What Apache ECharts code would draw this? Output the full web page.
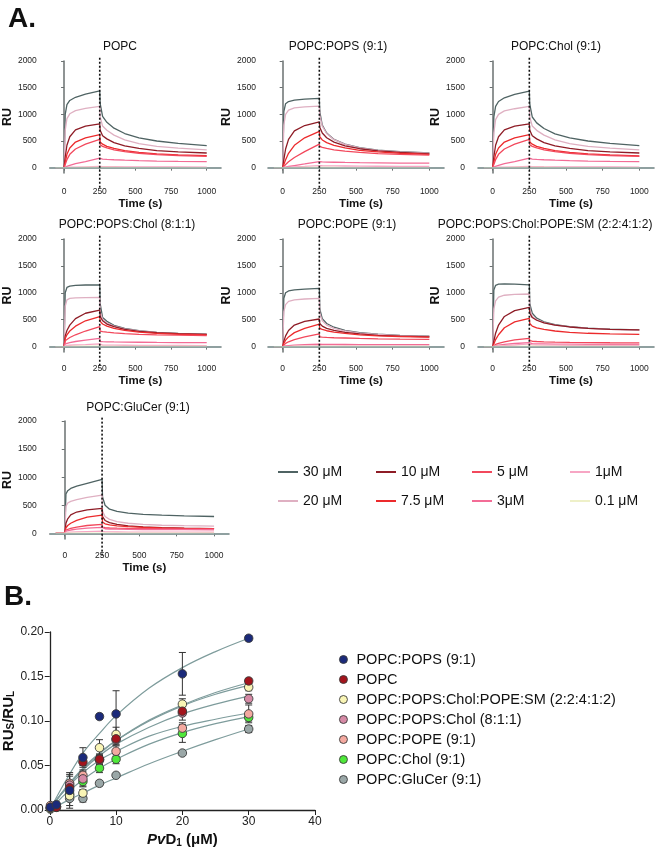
<!DOCTYPE html>
<html><head><meta charset="utf-8">
<script src="https://cdn.jsdelivr.net/npm/echarts@6/dist/echarts.min.js"></script>
<style>html,body{margin:0;padding:0;background:#fff}#c{width:655px;height:850px}</style>
</head><body><div id="c"></div>
<script>
const FONT = '"Liberation Sans", Arial, Helvetica, sans-serif';

// ---------- Panel A data ----------
const time = [-60, 0, 8, 20, 40, 80, 150, 250, 253, 270, 300, 350, 425, 525, 650, 800, 1000];
const concLabels = ['30 μM', '20 μM', '10 μM', '7.5 μM', '5 μM', '3μM', '1μM', '0.1 μM'];
const concColors = ['#4f6363', '#dfb0c2', '#8e1c26', '#ec2a2c', '#f2485c', '#f36c96', '#f7a6c4', '#eef0c8'];
const panelTitles = ['POPC', 'POPC:POPS (9:1)', 'POPC:Chol (9:1)', 'POPC:POPS:Chol (8:1:1)', 'POPC:POPE (9:1)', 'POPC:POPS:Chol:POPE:SM (2:2:4:1:2)', 'POPC:GluCer (9:1)'];
const xTicks = [0, 250, 500, 750, 1000];
const yTicks = [0, 500, 1000, 1500, 2000];
const injectionEnd = 250;

const popc = [
  [0, 0, 1000, 1180, 1260, 1320, 1380, 1440, 1200, 960, 850, 740, 640, 560, 500, 455, 415],
  [0, 0, 700, 920, 1010, 1070, 1110, 1150, 950, 780, 700, 610, 520, 450, 400, 365, 335],
  [0, 0, 200, 420, 580, 710, 780, 820, 700, 600, 540, 470, 410, 360, 320, 295, 275],
  [0, 0, 100, 250, 370, 480, 560, 620, 480, 440, 400, 360, 320, 285, 260, 240, 225],
  [0, 0, 60, 150, 250, 350, 440, 530, 430, 400, 370, 335, 300, 270, 245, 228, 212],
  [0, 0, 10, 25, 45, 75, 115, 180, 170, 162, 155, 148, 140, 132, 124, 117, 112],
  [0, 0, 2, 5, 8, 12, 16, 22, 20, 19, 18, 17, 16, 15, 14, 13, 12],
  [0, 0, 1, 1, 2, 2, 3, 4, 3, 3, 3, 3, 2, 2, 2, 2, 2]
];
const pops = [
  [0, 0, 1050, 1200, 1240, 1265, 1285, 1300, 1050, 800, 650, 530, 440, 375, 330, 300, 275],
  [0, 0, 800, 1000, 1080, 1120, 1140, 1155, 980, 780, 640, 525, 435, 370, 325, 295, 270],
  [0, 0, 150, 350, 530, 690, 790, 860, 760, 650, 560, 480, 410, 355, 315, 285, 258],
  [0, 0, 60, 150, 270, 420, 560, 680, 580, 520, 470, 420, 370, 325, 295, 270, 248],
  [0, 0, 20, 60, 110, 190, 300, 440, 400, 380, 360, 335, 310, 285, 265, 250, 235],
  [0, 0, 5, 12, 22, 40, 70, 115, 110, 108, 105, 102, 98, 94, 90, 87, 85],
  [0, 0, 2, 4, 8, 14, 24, 40, 38, 36, 35, 33, 31, 29, 27, 26, 25],
  [0, 0, 1, 1, 2, 2, 3, 4, 3, 3, 3, 3, 2, 2, 2, 2, 2]
];
const chol = [
  [0, 0, 950, 1150, 1240, 1310, 1375, 1435, 1190, 950, 840, 735, 635, 560, 500, 455, 412],
  [0, 0, 650, 900, 1000, 1065, 1105, 1148, 950, 780, 700, 610, 520, 450, 400, 365, 335],
  [0, 0, 200, 420, 580, 710, 780, 822, 700, 600, 540, 470, 410, 360, 320, 295, 275],
  [0, 0, 100, 250, 370, 480, 560, 618, 480, 440, 400, 360, 320, 285, 260, 240, 222],
  [0, 0, 60, 150, 250, 350, 440, 530, 430, 400, 370, 335, 300, 270, 245, 228, 212],
  [0, 0, 10, 25, 45, 75, 115, 181, 170, 162, 155, 148, 140, 132, 124, 117, 112],
  [0, 0, 2, 5, 8, 12, 16, 22, 20, 19, 18, 17, 16, 15, 14, 13, 12],
  [0, 0, 1, 1, 2, 2, 3, 4, 3, 3, 3, 3, 2, 2, 2, 2, 2]
];
const popsChol = [
  [0, 0, 1000, 1100, 1125, 1140, 1145, 1148, 800, 540, 470, 395, 340, 295, 265, 245, 230],
  [0, 0, 750, 870, 895, 905, 912, 916, 650, 510, 440, 380, 330, 290, 262, 242, 226],
  [0, 0, 200, 300, 400, 520, 620, 680, 560, 480, 420, 370, 320, 285, 258, 240, 226],
  [0, 0, 150, 220, 290, 380, 480, 557, 470, 420, 380, 340, 300, 270, 245, 230, 218],
  [0, 0, 110, 140, 170, 220, 290, 371, 290, 280, 270, 255, 240, 228, 218, 212, 205],
  [0, 0, 50, 60, 75, 95, 120, 155, 95, 92, 90, 87, 84, 81, 78, 76, 75],
  [0, 0, 20, 22, 25, 30, 38, 50, 30, 28, 27, 26, 25, 24, 22, 21, 20],
  [0, 0, 5, 5, 6, 7, 8, 10, 6, 5, 5, 5, 5, 4, 4, 4, 4]
];
const pope = [
  [0, 0, 900, 1000, 1035, 1055, 1068, 1083, 700, 520, 430, 360, 300, 260, 230, 210, 195],
  [0, 0, 650, 780, 840, 870, 885, 897, 620, 480, 400, 340, 290, 250, 225, 205, 190],
  [0, 0, 100, 200, 300, 400, 470, 513, 430, 380, 340, 300, 265, 235, 210, 195, 182],
  [0, 0, 60, 120, 180, 260, 340, 420, 340, 320, 295, 270, 245, 220, 200, 188, 178],
  [0, 0, 30, 60, 90, 130, 180, 235, 180, 175, 170, 165, 160, 152, 145, 140, 135],
  [0, 0, 10, 15, 20, 28, 36, 45, 42, 41, 40, 40, 39, 38, 38, 37, 36],
  [0, 0, 4, 5, 6, 8, 10, 12, 10, 10, 9, 9, 9, 8, 8, 8, 8],
  [0, 0, 1, 1, 1, 2, 2, 3, 2, 2, 2, 2, 2, 2, 2, 2, 2]
];
const mix = [
  [0, 0, 1050, 1140, 1160, 1165, 1160, 1148, 800, 620, 530, 460, 410, 370, 345, 325, 310],
  [0, 0, 700, 850, 920, 955, 972, 978, 700, 560, 500, 445, 400, 365, 340, 322, 308],
  [0, 0, 100, 250, 400, 560, 670, 730, 620, 540, 490, 440, 400, 365, 340, 322, 310],
  [0, 0, 50, 130, 220, 350, 460, 526, 430, 380, 350, 320, 290, 265, 248, 238, 229],
  [0, 0, 20, 40, 60, 90, 125, 155, 110, 100, 95, 90, 85, 80, 76, 72, 70],
  [0, 0, 10, 18, 28, 42, 58, 75, 60, 55, 52, 50, 47, 45, 43, 41, 40],
  [0, 0, 5, 8, 12, 20, 30, 50, 35, 32, 30, 28, 27, 25, 24, 23, 22],
  [0, 0, 2, 2, 3, 4, 6, 10, 8, 7, 7, 6, 6, 6, 5, 5, 5]
];
const glucer = [
  [0, 0, 700, 760, 800, 840, 890, 961, 650, 500, 430, 390, 360, 340, 325, 312, 300],
  [0, 0, 480, 540, 570, 600, 640, 682, 400, 300, 250, 210, 180, 160, 145, 137, 130],
  [0, 0, 180, 260, 330, 380, 420, 445, 300, 230, 190, 160, 135, 115, 100, 92, 85],
  [0, 0, 100, 140, 180, 230, 290, 326, 200, 170, 150, 135, 120, 108, 98, 90, 85],
  [0, 0, 60, 75, 90, 110, 140, 160, 110, 102, 96, 92, 88, 85, 83, 81, 80],
  [0, 0, 40, 50, 60, 75, 92, 107, 90, 82, 78, 74, 71, 69, 67, 66, 65],
  [0, 0, 15, 18, 22, 26, 32, 40, 30, 28, 26, 25, 24, 23, 22, 21, 20],
  [0, 0, 3, 3, 4, 4, 5, 6, 4, 4, 4, 4, 3, 3, 3, 3, 3]
];
const panels = [popc, pops, chol, popsChol, pope, mix, glucer];

// ---------- Panel B data ----------
const pvd1 = [0.1, 1, 3, 5, 7.5, 10, 20, 30];
const lipidNames = ['POPC:POPS (9:1)', 'POPC', 'POPC:POPS:Chol:POPE:SM (2:2:4:1:2)', 'POPC:POPS:Chol (8:1:1)', 'POPC:POPE (9:1)', 'POPC:Chol (9:1)', 'POPC:GluCer (9:1)'];
const lipidColors = ['#1b2a7a', '#a3141c', '#f9f5b5', '#d68aa6', '#f4a9a0', '#4fe83a', '#9aa7a7'];
const ratioPOPS = [0.003, 0.006, 0.022, 0.059, 0.105, 0.108, 0.153, 0.193];
const ratioPOPC = [0.003, 0.003, 0.025, 0.054, 0.057, 0.080, 0.111, 0.145];
const ratioMix = [0.002, 0.004, 0.016, 0.019, 0.070, 0.085, 0.119, 0.138];
const ratioPSChol = [0.003, 0.004, 0.028, 0.035, 0.057, 0.079, 0.109, 0.125];
const ratioPOPE = [0.005, 0.004, 0.030, 0.039, 0.056, 0.066, 0.092, 0.108];
const ratioChol = [0.002, 0.003, 0.018, 0.032, 0.047, 0.057, 0.086, 0.104];
const ratioGluCer = [0.001, 0.004, 0.013, 0.013, 0.030, 0.039, 0.064, 0.091];
const errPOPS = [0.002, 0.003, 0.020, 0.011, 0.003, 0.026, 0.024, 0.003];
const errPOPC = [0.002, 0.002, 0.008, 0.004, 0.005, 0.006, 0.005, 0.003];
const errMix = [0.001, 0.002, 0.005, 0.004, 0.009, 0.008, 0.006, 0.004];
const errPSChol = [0.002, 0.003, 0.010, 0.008, 0.006, 0.006, 0.008, 0.005];
const errPOPE = [0.002, 0.003, 0.010, 0.006, 0.005, 0.006, 0.006, 0.010];
const errChol = [0.001, 0.002, 0.006, 0.006, 0.005, 0.005, 0.010, 0.004];
const errGluCer = [0.001, 0.001, 0.008, 0.004, 0.003, 0.002, 0.002, 0.004];
const fitX = [0, 1, 2.5, 5, 7.5, 10, 15, 20, 25, 30];
const fitPOPS = [0, 0.014, 0.034, 0.064, 0.086, 0.106, 0.137, 0.160, 0.178, 0.193];
const fitPOPC = [0, 0.011, 0.025, 0.046, 0.063, 0.078, 0.101, 0.118, 0.132, 0.143];
const fitMix = [0, 0.011, 0.026, 0.047, 0.064, 0.078, 0.100, 0.117, 0.130, 0.140];
const fitPSChol = [0, 0.011, 0.025, 0.045, 0.061, 0.074, 0.093, 0.108, 0.119, 0.128];
const fitPOPE = [0, 0.011, 0.024, 0.042, 0.056, 0.066, 0.083, 0.094, 0.102, 0.109];
const fitChol = [0, 0.008, 0.019, 0.034, 0.047, 0.057, 0.074, 0.087, 0.097, 0.105];
const fitGluCer = [0, 0.004, 0.010, 0.019, 0.028, 0.036, 0.052, 0.066, 0.079, 0.091];
const ratios = [ratioPOPS, ratioPOPC, ratioMix, ratioPSChol, ratioPOPE, ratioChol, ratioGluCer];
const errs = [errPOPS, errPOPC, errMix, errPSChol, errPOPE, errChol, errGluCer];
const fits = [fitPOPS, fitPOPC, fitMix, fitPSChol, fitPOPE, fitChol, fitGluCer];

// ---------- layout ----------
const gridsA = [
  { left: 45, top: 61, width: 176, height: 112, yOff: 9, xOff: 11 },
  { left: 268, top: 61, width: 176, height: 112, yOff: 8, xOff: 11 },
  { left: 478, top: 61, width: 176, height: 112, yOff: 9, xOff: 11 },
  { left: 45, top: 239, width: 176, height: 113, yOff: 9, xOff: 9 },
  { left: 268, top: 239, width: 176, height: 113, yOff: 8, xOff: 9 },
  { left: 478, top: 239, width: 176, height: 113, yOff: 9, xOff: 9 },
  { left: 45, top: 421, width: 184, height: 118, yOff: 9, xOff: 9 }
];
const titlePos = [[120, 47], [338, 47], [556, 47], [127, 225], [347, 225], [545, 225], [138, 408]];
const dottedSpan = [2060, -400];

const grid = [], xAxis = [], yAxis = [], series = [], title = [];
const AX = '#6a7070';

function mkTitle(text, cx, cy, fs, bold) {
  return { text, left: cx, top: cy - (fs + 2) / 2, textAlign: 'center', padding: 0,
    textStyle: { fontFamily: FONT, fontSize: fs, fontWeight: bold ? 'bold' : 'normal', color: '#111', lineHeight: fs + 2 } };
}

gridsA.forEach((g, p) => {
  grid.push({ left: g.left, top: g.top, width: g.width, height: g.height, containLabel: false });
  xAxis.push({
    type: 'value', gridIndex: p, min: -100, max: 1100, offset: g.xOff,
    name: 'Time (s)', nameLocation: 'middle', nameGap: 12,
    nameTextStyle: { fontFamily: FONT, fontSize: 11.5, fontWeight: 'bold', color: '#111', lineHeight: 13, padding: [0, 0, 0, 10] },
    axisLine: { show: true, lineStyle: { color: AX, width: 1.5 } },
    axisTick: { show: true, length: 3, customValues: xTicks, lineStyle: { color: AX, width: 1 } },
    axisLabel: { customValues: xTicks, fontFamily: FONT, fontSize: 8.5, color: '#222', margin: 3, formatter: v => String(v) },
    splitLine: { show: false }
  });
  yAxis.push({
    type: 'value', gridIndex: p, min: -100, max: 2000, offset: g.yOff,
    name: 'RU', nameLocation: 'middle', nameGap: 21, nameRotate: 90,
    nameTextStyle: { fontFamily: FONT, fontSize: 12.5, fontWeight: 'bold', color: '#111' },
    axisLine: { show: true, lineStyle: { color: AX, width: 1.5 } },
    axisTick: { show: true, length: 3, customValues: yTicks, lineStyle: { color: AX, width: 1 } },
    axisLabel: { customValues: yTicks, fontFamily: FONT, fontSize: 8.5, color: '#222', margin: 4, formatter: v => String(v) },
    splitLine: { show: false }
  });
  title.push(mkTitle(panelTitles[p], titlePos[p][0], titlePos[p][1], 12, false));
  panels[p].forEach((vals, c) => {
    const s = {
      type: 'line', name: concLabels[c], xAxisIndex: p, yAxisIndex: p,
      data: time.map((t, i) => [t, vals[i]]),
      showSymbol: false, symbol: 'none', silent: true, animation: false,
      lineStyle: { color: concColors[c], width: 1.3 }, itemStyle: { color: concColors[c] },
      z: 3
    };
    if (c === 7) {
      s.markLine = { symbol: 'none', silent: true, animation: false, label: { show: false },
        lineStyle: { color: '#8fa5a5', width: 1.5, type: 'solid' }, data: [{ yAxis: 0 }] };
    }
    series.push(s);
  });
  series.push({
    type: 'custom', xAxisIndex: p, yAxisIndex: p, clip: false, silent: true, animation: false, z: 10,
    data: [[injectionEnd, 0]],
    renderItem: (params, api) => {
      const a = api.coord([api.value(0), dottedSpan[0]]);
      const b = api.coord([api.value(0), dottedSpan[1]]);
      return { type: 'line', shape: { x1: a[0], y1: a[1], x2: b[0], y2: b[1] },
        style: { stroke: '#111', lineWidth: 1.6, lineDash: [2, 2] } };
    }
  });
});

// panel B
const pB = 7;
grid.push({ left: 47, top: 632, width: 268, height: 178 });
xAxis.push({
  type: 'value', gridIndex: pB, min: 0, max: 40, interval: 10,
  name: '{i|Pv}{b|D}{s|1}{b| (μM)}', nameLocation: 'middle', nameGap: 22,
  nameTextStyle: { rich: {
    i: { fontFamily: FONT, fontSize: 15, fontWeight: 'bold', fontStyle: 'italic', color: '#111' },
    b: { fontFamily: FONT, fontSize: 15, fontWeight: 'bold', color: '#111' },
    s: { fontFamily: FONT, fontSize: 10, fontWeight: 'bold', color: '#111', verticalAlign: 'bottom', padding: [6, 0, 0, 0] } } },
  axisLine: { show: true, lineStyle: { color: '#222', width: 1.3 } },
  axisTick: { show: true, length: 5, lineStyle: { color: '#222' } },
  axisLabel: { fontFamily: FONT, fontSize: 12, color: '#222', margin: 6 },
  splitLine: { show: false }
});
yAxis.push({
  type: 'value', gridIndex: pB, min: 0, max: 0.2, interval: 0.05,
  name: '{b|RU}{s|S}{b|/RU}{s|L}', nameLocation: 'middle', nameGap: 27, nameRotate: 90,
  nameTextStyle: { rich: {
    b: { fontFamily: FONT, fontSize: 15, fontWeight: 'bold', color: '#111' },
    s: { fontFamily: FONT, fontSize: 10, fontWeight: 'bold', color: '#111', verticalAlign: 'bottom', padding: [6, 0, 0, 0] } } },
  axisLine: { show: true, lineStyle: { color: '#222', width: 1.3 } },
  axisTick: { show: true, length: 5, lineStyle: { color: '#222' } },
  axisLabel: { fontFamily: FONT, fontSize: 12, color: '#222', margin: 6, formatter: v => v.toFixed(2) },
  splitLine: { show: false }
});
lipidNames.forEach((n, i) => {
  series.push({
    type: 'line', name: n + ' fit', xAxisIndex: pB, yAxisIndex: pB, smooth: 0.4,
    data: fitX.map((x, k) => [x, fits[i][k]]), showSymbol: false, symbol: 'none', silent: true, animation: false,
    lineStyle: { color: '#7e9c9c', width: 1.2 }, z: 2
  });
  series.push({
    type: 'custom', name: n + ' err', xAxisIndex: pB, yAxisIndex: pB, silent: true, animation: false, z: 3,
    data: pvd1.map((x, k) => [x, ratios[i][k], errs[i][k]]),
    renderItem: (params, api) => {
      const x = api.value(0), y = api.value(1), e = api.value(2);
      const t = api.coord([x, y + e]), b = api.coord([x, Math.max(0, y - e)]);
      const st = { stroke: '#333', lineWidth: 1 };
      return { type: 'group', children: [
        { type: 'line', shape: { x1: t[0], y1: t[1], x2: b[0], y2: b[1] }, style: st },
        { type: 'line', shape: { x1: t[0] - 3.5, y1: t[1], x2: t[0] + 3.5, y2: t[1] }, style: st },
        { type: 'line', shape: { x1: b[0] - 3.5, y1: b[1], x2: b[0] + 3.5, y2: b[1] }, style: st }
      ] };
    }
  });
});
lipidNames.forEach((n, i) => {
  series.push({
    type: 'scatter', name: n, xAxisIndex: pB, yAxisIndex: pB, symbol: 'circle', symbolSize: 8.5,
    data: pvd1.map((x, k) => [x, ratios[i][k]]), silent: true, animation: false, z: 5 + (7 - i) * 0.01,
    itemStyle: { color: lipidColors[i], borderColor: '#3a3a3a', borderWidth: 0.9, opacity: 1 }
  });
});

title.push(mkTitle('A.', 22, 19, 28, true));
title.push(mkTitle('B.', 18, 597, 28, true));

const legendA = [0, 1, 2, 3].map(k => ({
  orient: 'vertical', left: [278, 376, 472, 570][k], top: 465, itemGap: 15, padding: 0,
  itemWidth: 20, itemHeight: 2, icon: 'rect', selectedMode: false,
  data: [concLabels[2 * k], concLabels[2 * k + 1]].map(nm => ({ name: nm, itemStyle: { color: concColors[concLabels.indexOf(nm)] } })),
  textStyle: { fontFamily: FONT, fontSize: 14, color: '#111', lineHeight: 14 }
}));
const legendB = {
  orient: 'vertical', left: 339, top: 652, itemGap: 5, padding: 0, itemWidth: 16, itemHeight: 8, icon: 'circle', selectedMode: false,
  data: lipidNames.map((nm, i) => ({ name: nm, itemStyle: { color: lipidColors[i], borderColor: '#3a3a3a', borderWidth: 0.9 } })),
  textStyle: { fontFamily: FONT, fontSize: 14.5, color: '#111', lineHeight: 15 }
};

const chart = echarts.init(document.getElementById('c'), null, { renderer: 'canvas' });
chart.setOption({
  backgroundColor: '#fff', animation: false,
  title, grid, xAxis, yAxis, series,
  legend: legendA.concat([legendB])
});
</script></body></html>
